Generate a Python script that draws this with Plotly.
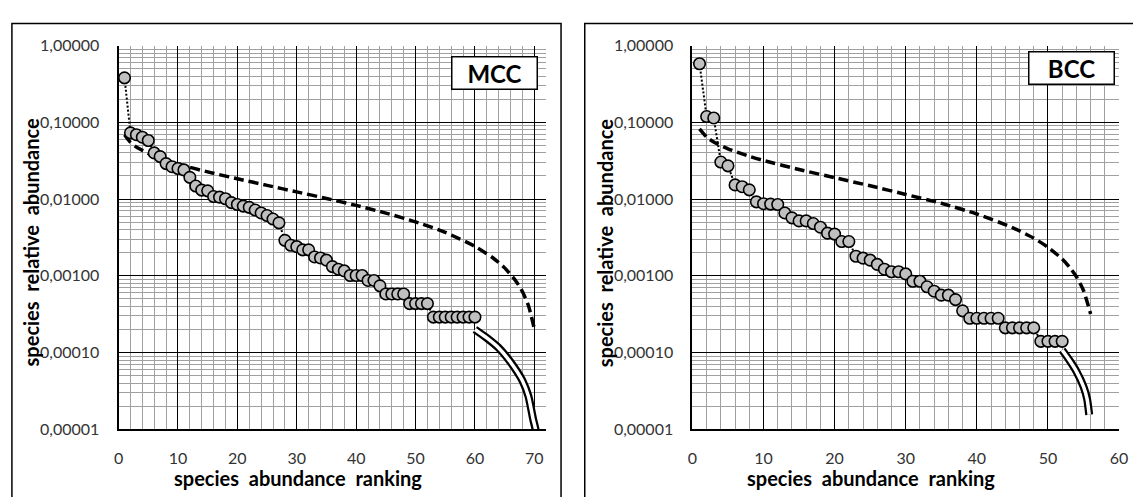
import plotly.graph_objects as go

# ---- data -------------------------------------------------------------
mcc_rank = list(range(1, 61))
mcc_abund = [
    0.38, 0.073, 0.069, 0.064, 0.058, 0.040, 0.0358, 0.029, 0.0264, 0.025,
    0.024, 0.0192, 0.0148, 0.0131, 0.0128, 0.0108, 0.0106, 0.0101, 0.0090, 0.0085,
    0.0081, 0.0078, 0.0072, 0.0066, 0.0061, 0.0055, 0.0049, 0.0029, 0.0025, 0.0024,
    0.00218, 0.00218, 0.00176, 0.00171, 0.0016, 0.00132, 0.00122, 0.00116, 0.00101, 0.00101,
    0.00101, 0.00087, 0.00087, 0.00074, 0.00058, 0.00058, 0.00058, 0.00058, 0.000435, 0.000435,
    0.000435, 0.000435, 0.00029, 0.00029, 0.00029, 0.00029, 0.00029, 0.00029, 0.00029, 0.00029,
]
# broken-stick expectation (dashed)
mcc_bs_rank = [1, 2, 3, 5, 8, 10, 15, 20, 25, 30, 35, 40, 45, 50, 55, 60, 63, 65, 67, 68, 69, 70]
mcc_bs_abund = [0.0690, 0.0548, 0.0476, 0.0393, 0.0320, 0.0286, 0.0226, 0.0184, 0.0151, 0.0124,
                0.0102, 0.00827, 0.00657, 0.00505, 0.00368, 0.00242, 0.00172, 0.00127,
                0.000833, 0.000620, 0.000411, 0.000204]
# extrapolated tail (double line)
mcc_tail_rank = [60, 62, 64, 66, 68, 69, 69.8, 70.2, 70.6]
mcc_tail_abund = [2.0e-4, 1.55e-4, 1.15e-4, 7.5e-5, 4.3e-5, 2.7e-5, 1.35e-5, 1.0e-5, 5e-6]

bcc_rank = list(range(1, 53))
bcc_abund = [
    0.58, 0.119, 0.114, 0.0304, 0.0271, 0.0153, 0.0145, 0.0132, 0.0092, 0.0087,
    0.0086, 0.0085, 0.0066, 0.0057, 0.0052, 0.0052, 0.0048, 0.0043, 0.0036, 0.0035,
    0.0028, 0.0028, 0.0018, 0.0017, 0.00160, 0.00141, 0.00122, 0.00113, 0.00113, 0.00106,
    0.00085, 0.00085, 0.00072, 0.00063, 0.00056, 0.00056, 0.00049, 0.00035, 0.00028, 0.00028,
    0.00028, 0.00028, 0.00028, 0.00021, 0.00021, 0.00021, 0.00021, 0.00021, 0.00014, 0.00014,
    0.00014, 0.00014,
]
bcc_bs_rank = [1, 2, 3, 5, 8, 10, 15, 20, 25, 30, 35, 40, 45, 48, 50, 52, 53, 54, 55, 56]
bcc_bs_abund = [0.0824, 0.0645, 0.0556, 0.0452, 0.0361, 0.0318, 0.0243, 0.0190, 0.0149, 0.0115,
                0.00881, 0.00639, 0.00426, 0.00310, 0.00236, 0.00166, 0.00131, 0.000974,
                0.000644, 0.000319]
bcc_tail_rank = [52, 53, 54, 55, 55.5, 55.8]
bcc_tail_abund = [1.08e-4, 8.0e-5, 5.7e-5, 3.6e-5, 2.5e-5, 1.55e-5]

y_tickvals = [1, 0.1, 0.01, 0.001, 0.0001, 0.00001]
y_ticktext = ["1,00000", "0,10000", "0,01000", "0,00100", "0,00010", "0,00001"]
mcc_xticks = [0, 10, 20, 30, 40, 50, 60, 70]
bcc_xticks = [0, 10, 20, 30, 40, 50, 60]
x_title = "species\u00a0 abundance\u00a0 ranking"
y_title = "species\u00a0 relative\u00a0 abundance"

# ---- page geometry (window pixels) ------------------------------------
W, H = 1133, 497
FONT = "Lato, 'Open Sans', sans-serif"
GRID_MINOR = "#a0a0a0"


def px(x):
    return x / W


def py(y):
    return 1 - y / H


log_minor = [m * 10 ** e for e in range(-5, 0) for m in range(2, 10)]

fig = go.Figure()


def add_panel(xa, ya, rank, abund, bs_rank, bs_abund, tail_rank, tail_abund):
    # broken-stick model
    fig.add_trace(go.Scatter(x=bs_rank, y=bs_abund, mode="lines", xaxis=xa, yaxis=ya,
                             line=dict(color="black", width=3.5, dash="10px,5px",
                                       shape="spline", smoothing=0.6),
                             showlegend=False, hoverinfo="skip"))
    # observed ranks
    fig.add_trace(go.Scatter(x=rank, y=abund, mode="lines+markers", xaxis=xa, yaxis=ya,
                             line=dict(color="black", width=2, dash="2px,2px"),
                             marker=dict(size=11.5, color="#c0c0c0",
                                         line=dict(color="black", width=1.6)),
                             showlegend=False))
    # tail: black outline with white core
    fig.add_trace(go.Scatter(x=tail_rank, y=tail_abund, mode="lines", xaxis=xa, yaxis=ya,
                             line=dict(color="black", width=8, shape="spline", smoothing=0.6),
                             showlegend=False, hoverinfo="skip"))
    fig.add_trace(go.Scatter(x=tail_rank, y=tail_abund, mode="lines", xaxis=xa, yaxis=ya,
                             line=dict(color="white", width=3.5, shape="spline", smoothing=0.6),
                             showlegend=False, hoverinfo="skip"))


add_panel("x", "y", mcc_rank, mcc_abund, mcc_bs_rank, mcc_bs_abund, mcc_tail_rank, mcc_tail_abund)
add_panel("x2", "y2", bcc_rank, bcc_abund, bcc_bs_rank, bcc_bs_abund, bcc_tail_rank, bcc_tail_abund)

tick_font = dict(family=FONT, size=16, color="#333")


def xaxis(left, right, rng, ticks, anchor):
    return dict(domain=[px(left), px(right)], range=rng, anchor=anchor, tickvals=ticks,
                ticktext=[str(t) for t in ticks], showgrid=True, gridcolor="black",
                gridwidth=1, zeroline=False, showline=True, linecolor="black",
                linewidth=2, ticks="outside", ticklen=13, tickcolor="rgba(0,0,0,0)",
                ticklabeloverflow="allow", tickfont=tick_font,
                minor=dict(dtick=2, tick0=0, showgrid=True, gridcolor=GRID_MINOR,
                           gridwidth=1, ticks=""))


def yaxis(domain, anchor):
    return dict(domain=domain, type="log", range=[-5, 0], anchor=anchor,
                tickvals=y_tickvals, ticktext=y_ticktext, showgrid=True,
                gridcolor="black", gridwidth=1, zeroline=False, showline=True,
                linecolor="black", linewidth=2, ticks="outside", ticklen=14,
                tickcolor="rgba(0,0,0,0)", ticklabeloverflow="allow", tickfont=tick_font,
                minor=dict(tickvals=log_minor, showgrid=True, gridcolor=GRID_MINOR,
                           gridwidth=1, ticks=""))


ydom = [py(436), py(37)]
fig.update_layout(
    width=W, height=H, margin=dict(l=0, r=0, t=0, b=0),
    paper_bgcolor="white", plot_bgcolor="white",
    xaxis=xaxis(115, 548, [0, 72], mcc_xticks, "y"),
    yaxis=yaxis(ydom, "x"),
    xaxis2=xaxis(696, 1128, [0, 60], bcc_xticks, "y2"),
    yaxis2=yaxis(ydom, "x2"),
)

# panel frames
for x0, x1 in [(7, 563), (587, 1145)]:
    fig.add_shape(type="rect", xref="paper", yref="paper", x0=px(x0), x1=px(x1),
                  y0=-0.05, y1=py(14), line=dict(color="black", width=1.5),
                  fillcolor="rgba(0,0,0,0)", layer="below")

title_font = dict(family=FONT, size=20, color="black")
ann = []
for xt, yt in [(297, 26), (877, 607)]:
    ann.append(dict(text="<b>%s</b>" % x_title, x=px(xt), y=py(487), xref="paper",
                    yref="paper", showarrow=False, font=title_font,
                    xanchor="center", yanchor="middle"))
    ann.append(dict(text="<b>%s</b>" % y_title, x=px(yt), y=py(242), xref="paper",
                    yref="paper", showarrow=False, font=title_font, textangle=-90,
                    xanchor="center", yanchor="middle"))

for label, cx, cy in [("MCC", 495.5, 65), ("BCC", 1079.5, 60)]:
    ann.append(dict(text="<b>%s</b>" % label, x=px(cx), y=py(cy), xref="paper",
                    yref="paper", showarrow=False,
                    font=dict(family=FONT, size=24, color="black"),
                    bgcolor="white", bordercolor="black", borderwidth=1.5,
                    borderpad=1, width=82, height=29,
                    xanchor="center", yanchor="middle"))
fig.update_layout(annotations=ann)

fig.write_html("out.html")
